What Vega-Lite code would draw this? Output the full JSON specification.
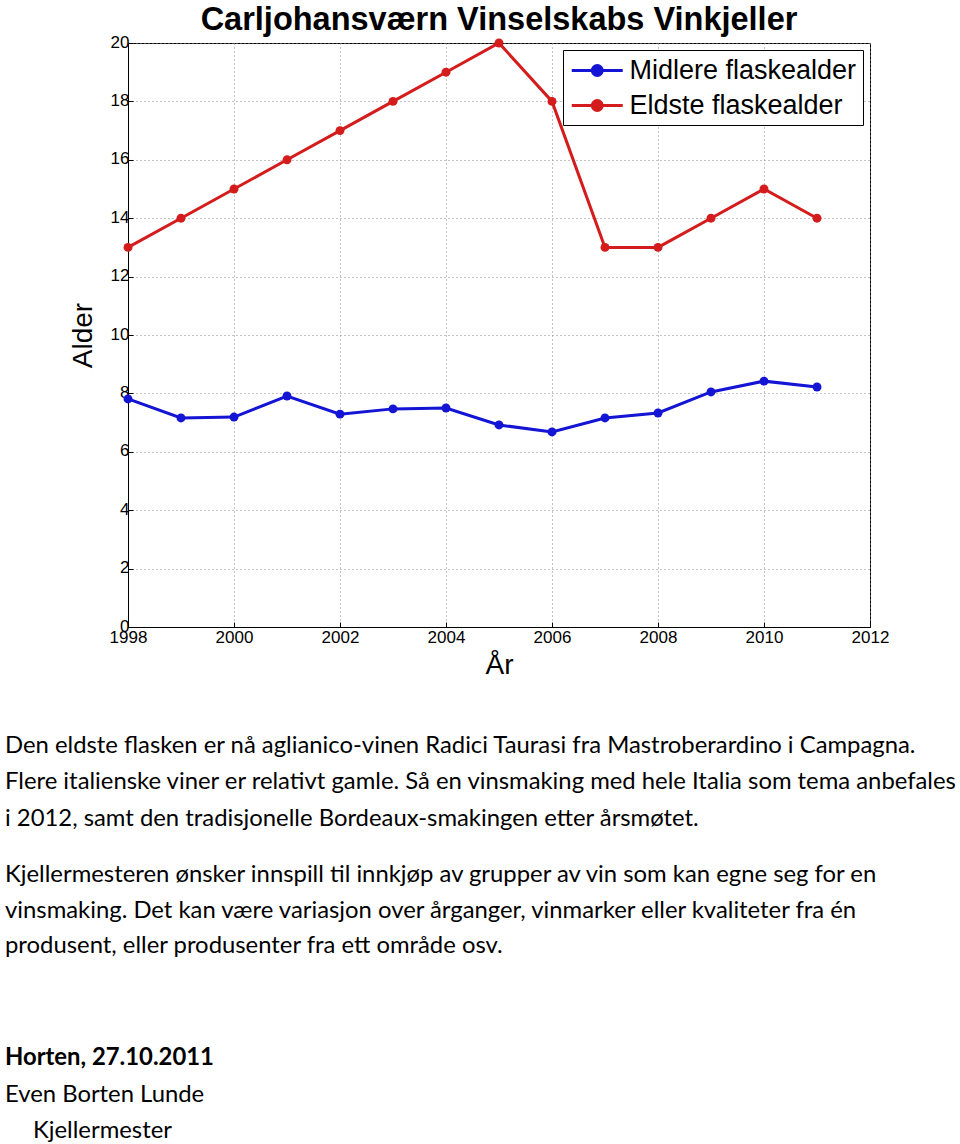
{
  "$schema": "https://vega.github.io/schema/vega-lite/v6.json",
  "background": "white",
  "padding": {"left": 5, "top": 3, "right": 0, "bottom": 0},
  "config": {"view": {"stroke": null}, "font": "Liberation Sans", "concat": {"spacing": 54}},
  "resolve": {"scale": {"x": "independent", "y": "independent", "color": "independent"}, "legend": {"color": "independent"}},
  "datasets": {
    "series": [
      {"year": 1998, "series": "Midlere flaskealder", "age": 7.81},
      {"year": 1999, "series": "Midlere flaskealder", "age": 7.16},
      {"year": 2000, "series": "Midlere flaskealder", "age": 7.19},
      {"year": 2001, "series": "Midlere flaskealder", "age": 7.91},
      {"year": 2002, "series": "Midlere flaskealder", "age": 7.29},
      {"year": 2003, "series": "Midlere flaskealder", "age": 7.47},
      {"year": 2004, "series": "Midlere flaskealder", "age": 7.5},
      {"year": 2005, "series": "Midlere flaskealder", "age": 6.92},
      {"year": 2006, "series": "Midlere flaskealder", "age": 6.68},
      {"year": 2007, "series": "Midlere flaskealder", "age": 7.16},
      {"year": 2008, "series": "Midlere flaskealder", "age": 7.33},
      {"year": 2009, "series": "Midlere flaskealder", "age": 8.05},
      {"year": 2010, "series": "Midlere flaskealder", "age": 8.42},
      {"year": 2011, "series": "Midlere flaskealder", "age": 8.22},
      {"year": 1998, "series": "Eldste flaskealder", "age": 13},
      {"year": 1999, "series": "Eldste flaskealder", "age": 14},
      {"year": 2000, "series": "Eldste flaskealder", "age": 15},
      {"year": 2001, "series": "Eldste flaskealder", "age": 16},
      {"year": 2002, "series": "Eldste flaskealder", "age": 17},
      {"year": 2003, "series": "Eldste flaskealder", "age": 18},
      {"year": 2004, "series": "Eldste flaskealder", "age": 19},
      {"year": 2005, "series": "Eldste flaskealder", "age": 20},
      {"year": 2006, "series": "Eldste flaskealder", "age": 18},
      {"year": 2007, "series": "Eldste flaskealder", "age": 13},
      {"year": 2008, "series": "Eldste flaskealder", "age": 13},
      {"year": 2009, "series": "Eldste flaskealder", "age": 14},
      {"year": 2010, "series": "Eldste flaskealder", "age": 15},
      {"year": 2011, "series": "Eldste flaskealder", "age": 14}
    ],
    "notes": [
      {"line": 0, "kind": "body", "text": "Den eldste flasken er nå aglianico-vinen Radici Taurasi fra Mastroberardino i Campagna."},
      {"line": 1, "kind": "body", "text": "Flere italienske viner er relativt gamle. Så en vinsmaking med hele Italia som tema anbefales"},
      {"line": 2, "kind": "body", "text": "i 2012, samt den tradisjonelle Bordeaux-smakingen etter årsmøtet."},
      {"line": 3.55, "kind": "body", "text": "Kjellermesteren ønsker innspill til innkjøp av grupper av vin som kan egne seg for en"},
      {"line": 4.55, "kind": "body", "text": "vinsmaking. Det kan være variasjon over årganger, vinmarker eller kvaliteter fra én"},
      {"line": 5.5, "kind": "body", "text": "produsent, eller produsenter fra ett område osv."},
      {"line": 8.6, "kind": "bold", "text": "Horten, 27.10.2011"},
      {"line": 9.6, "kind": "body", "text": "Even Borten Lunde"},
      {"line": 10.6, "kind": "indented", "text": "Kjellermester"}
    ]
  },
  "vconcat": [
    {
      "width": 742,
      "height": 584,
      "title": {"text": "Carljohansværn Vinselskabs Vinkjeller", "fontSize": 32.5, "fontWeight": "bold", "font": "Liberation Sans", "color": "black", "offset": -3},
      "view": {"stroke": "black", "strokeWidth": 1},
      "data": {"name": "series"},
      "encoding": {
        "x": {
          "field": "year", "type": "quantitative",
          "scale": {"domain": [1998, 2012], "nice": false, "zero": false},
          "axis": {
            "values": [1998, 2000, 2002, 2004, 2006, 2008, 2010, 2012],
            "format": "d", "title": "År", "titleFontSize": 28, "titleFontWeight": "normal", "titleColor": "black",
            "titlePadding": 6, "labelFontSize": 17, "labelColor": "black", "labelPadding": 7, "labelFlush": false,
            "grid": true, "gridDash": [1, 3], "gridColor": "#888888", "gridOpacity": 1,
            "domainColor": "black", "tickColor": "black", "tickSize": -5, "labelOverlap": false
          }
        },
        "y": {
          "field": "age", "type": "quantitative",
          "scale": {"domain": [0, 20], "nice": false},
          "axis": {
            "values": [0, 2, 4, 6, 8, 10, 12, 14, 16, 18, 20],
            "title": "Alder", "titleFontSize": 28, "titleFontWeight": "normal", "titleColor": "black",
            "titlePadding": 13, "labelFontSize": 17, "labelColor": "black", "labelPadding": 4, "labelFlush": false, "labelOffset": -1,
            "grid": true, "gridDash": [1, 3], "gridColor": "#888888", "gridOpacity": 1,
            "domainColor": "black", "tickColor": "black", "tickSize": -5
          }
        },
        "color": {
          "field": "series", "type": "nominal",
          "scale": {"domain": ["Midlere flaskealder", "Eldste flaskealder"], "range": ["#1414d4", "#d41c1c"]},
          "legend": {
            "orient": "top-right", "offset": 7, "title": null,
            "labelFontSize": 27, "labelFont": "Liberation Sans", "labelColor": "black", "labelLimit": 400,
            "strokeColor": "black", "fillColor": "white", "padding": 6,
            "symbolType": "M -2 0 L 2 0 M -0.39 0 A 0.39 0.39 0 1 0 0.39 0 A 0.39 0.39 0 1 0 -0.39 0",
            "symbolSize": 650, "symbolStrokeWidth": 3, "symbolOffset": 13.75, "rowPadding": 7, "labelOffset": 17.75,
            "encode": {"symbols": {"update": {"fill": {"scale": "color", "field": "value"}, "stroke": {"scale": "color", "field": "value"}, "fillOpacity": {"value": 1}}}}
          }
        }
      },
      "layer": [
        {"mark": {"type": "line", "strokeWidth": 3}},
        {"mark": {"type": "point", "filled": true, "size": 80, "opacity": 1}}
      ]
    },
    {
      "width": 742,
      "height": 385,
      "data": {"name": "notes"},
      "encoding": {
        "y": {"field": "line", "type": "quantitative", "scale": {"domain": [0, 10.6], "reverse": true, "zero": false, "nice": false}, "axis": null},
        "x": {"datum": 0, "type": "quantitative", "scale": {"domain": [0, 1]}, "axis": null},
        "text": {"field": "text"}
      },
      "layer": [
        {"transform": [{"filter": "datum.kind === 'body'"}], "mark": {"type": "text", "align": "left", "baseline": "middle", "font": "Lato", "fontSize": 23.85, "color": "black", "dx": -123}},
        {"transform": [{"filter": "datum.kind === 'indented'"}], "mark": {"type": "text", "align": "left", "baseline": "middle", "font": "Lato", "fontSize": 23.85, "color": "black", "dx": -95}},
        {"transform": [{"filter": "datum.kind === 'bold'"}], "mark": {"type": "text", "align": "left", "baseline": "middle", "font": "Lato", "fontSize": 23.85, "fontWeight": "bold", "color": "black", "dx": -123}}
      ]
    }
  ]
}
